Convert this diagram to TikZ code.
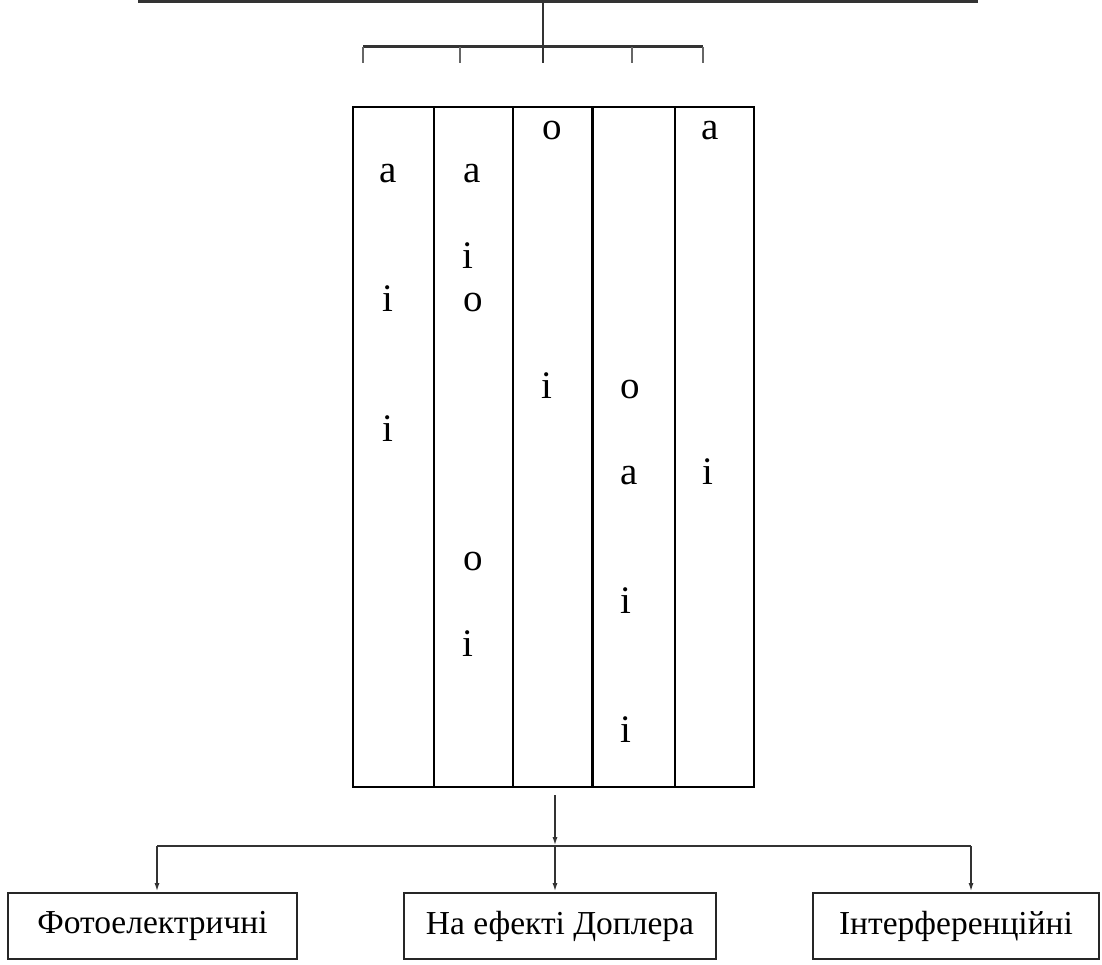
\documentclass[tikz,border=0pt]{standalone}
\usepackage{fontspec}
\setmainfont{Liberation Serif}
\usetikzlibrary{arrows.meta}
\tikzset{
  col/.style={draw=black, line width=2pt, minimum width=#1, inner sep=0pt},
  ltr/.style={inner sep=0pt, anchor=base, font=\fontsize{39}{44}\selectfont},
  boxnode/.style={draw=black!85, line width=2pt, inner sep=0pt, font=\fontsize{33.5}{38}\selectfont},
  topline/.style={draw=black!80, line width=3pt},
  tick/.style={draw=black!60, line width=2pt},
  conn/.style={draw=black!80, line width=2pt},
  arr/.style={conn, -{Latex[length=9pt,width=5pt]}},
}
\begin{document}
\begin{tikzpicture}[x=1pt,y=-1pt]
\useasboundingbox (0,0) rectangle (1102,965);
\fill[white] (0,0) rectangle (1102,965);
% top tree
\coordinate (tl) at (138,1.5);
\coordinate (tr) at (978,1.5);
\coordinate (hub) at (543,1.5);
\coordinate (hubd) at (543,47);
\coordinate (bl) at (363,47);
\coordinate (br) at (703,47);
\draw[topline] (tl) -- (tr);
\draw[conn, line width=2.2pt] (hub) -- (543,63);
\draw[topline] (bl) -- (br);
\foreach \x in {363,460,632,703} {
  \draw[tick] (\x,47) -- (\x,63);
}
% table columns
\node[col=81pt, minimum height=680pt, anchor=north west] (c1) at (352,106) {};
\node[col=79pt, minimum height=680pt, anchor=north west] (c2) at (433,106) {};
\node[col=79pt, minimum height=680pt, anchor=north west] (c3) at (512,106) {};
\node[col=82pt, minimum height=680pt, anchor=north west] (c4) at (592,106) {};
\node[col=79pt, minimum height=680pt, anchor=north west] (c5) at (674,106) {};
% letters
\node[ltr] (l1) at (388,183) {a};
\node[ltr] (l2) at (388,312) {i};
\node[ltr] (l3) at (388,441) {i};
\node[ltr] (l4) at (472,183) {a};
\node[ltr] (l5) at (468,269) {i};
\node[ltr] (l6) at (473,312) {o};
\node[ltr] (l7) at (473,570) {o};
\node[ltr] (l8) at (468,656) {i};
\node[ltr] (l9) at (552,140) {o};
\node[ltr] (l10) at (547,398) {i};
\node[ltr] (l11) at (630,398) {o};
\node[ltr] (l12) at (629,484) {a};
\node[ltr] (l13) at (626,613) {i};
\node[ltr] (l14) at (626,742) {i};
\node[ltr] (l15) at (710,140) {a};
\node[ltr] (l16) at (708,484) {i};
% bottom boxes
\node[boxnode, minimum width=289pt, minimum height=66pt, anchor=north west] (b1) at (7,892) {Фотоелектричні};
\node[boxnode, minimum width=312pt, minimum height=66pt, anchor=north west] (b2) at (403,892) {На ефекті Доплера};
\node[boxnode, minimum width=286pt, minimum height=66pt, anchor=north west] (b3) at (812,892) {Інтерференційні};
% connectors
\coordinate (s) at (555,795);
\coordinate (j) at (555,846);
\coordinate (jl) at (157,846);
\coordinate (jr) at (971,846);
\draw[arr] (s) -- (j);
\draw[conn] (jl) -- (jr);
\draw[arr] (jl) -- (jl |- b1.north);
\draw[arr] (j) -- (j |- b2.north);
\draw[arr] (jr) -- (jr |- b3.north);
\end{tikzpicture}
\end{document}
